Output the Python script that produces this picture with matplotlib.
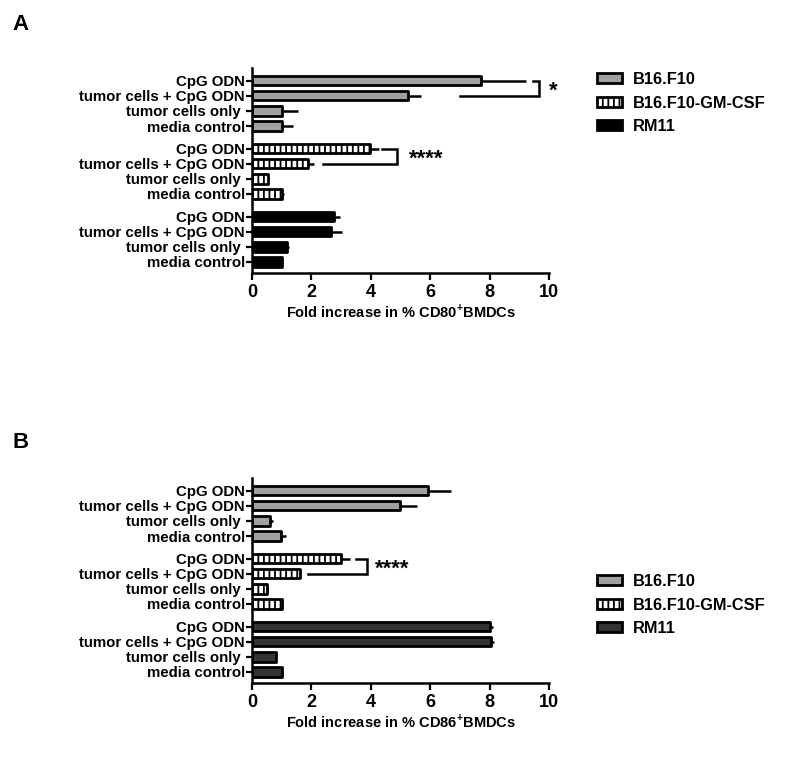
import numpy as np
import matplotlib.pyplot as plt
from matplotlib.patches import Patch

plt.rcParams.update({
    "font.family": "Liberation Sans",
    "font.weight": "bold",
    "mathtext.fontset": "custom",
    "mathtext.rm": "Liberation Sans:bold",
    "mathtext.bf": "Liberation Sans:bold",
    "hatch.linewidth": 1.3,
})

CONDITIONS = ["CpG ODN", "tumor cells + CpG ODN", "tumor cells only ", "media control"]
CELL_LINES = ["B16.F10", "B16.F10-GM-CSF", "RM11"]

# panel A: CD80
cd80_mean = {
    "B16.F10": [7.72, 5.25, 1.02, 1.02],
    "B16.F10-GM-CSF": [3.98, 1.89, 0.54, 1.01],
    "RM11": [2.75, 2.65, 1.19, 1.02],
}
cd80_err = {
    "B16.F10": [1.49, 0.45, 0.53, 0.36],
    "B16.F10-GM-CSF": [0.30, 0.19, 0.03, 0.07],
    "RM11": [0.20, 0.39, 0.04, 0.0],
}

# panel B: CD86
cd86_mean = {
    "B16.F10": [5.93, 4.99, 0.60, 0.99],
    "B16.F10-GM-CSF": [3.01, 1.60, 0.50, 1.01],
    "RM11": [8.00, 8.05, 0.82, 1.02],
}
cd86_err = {
    "B16.F10": [0.78, 0.58, 0.11, 0.14],
    "B16.F10-GM-CSF": [0.28, 0.03, 0.03, 0.04],
    "RM11": [0.10, 0.10, 0.0, 0.03],
}

W, H = 796, 760
fig = plt.figure(figsize=(W / 100, H / 100), dpi=100)


def draw_panel(rect, means, errs, colors, xlabel, brackets, legend_y):
    ax = fig.add_axes(rect)
    styles = {
        "B16.F10": dict(color=colors[0], hatch=None),
        "B16.F10-GM-CSF": dict(color="white", hatch="|||"),
        "RM11": dict(color=colors[2], hatch=None),
    }
    ticks, labels = [], []
    for g, line in enumerate(CELL_LINES):
        pos = g * 4.5 + np.arange(4)
        st = styles[line]
        ax.barh(pos, means[line], height=0.62, color=st["color"], hatch=st["hatch"],
                edgecolor="black", linewidth=2.0, joinstyle="round", zorder=2)
        ax.errorbar(means[line], pos, xerr=[np.zeros(4), errs[line]], fmt="none",
                    ecolor="black", elinewidth=1.8, capsize=0, zorder=1)
        ticks += list(pos)
        labels += CONDITIONS
    ax.set_yticks(ticks)
    ax.set_yticklabels(labels, fontsize=10.8, fontweight="bold")
    ax.set_ylim(12.73, -0.84)
    ax.set_xlim(0, 10)
    ax.set_xticks(np.arange(0, 11, 2))
    ax.tick_params(axis="x", labelsize=13, width=1.6, length=5, pad=3)
    ax.tick_params(axis="y", width=1.6, length=4, pad=1)
    for lab in ax.get_xticklabels():
        lab.set_fontweight("bold")
    for s in ["top", "right"]:
        ax.spines[s].set_visible(False)
    for s in ["left", "bottom"]:
        ax.spines[s].set_linewidth(1.8)
    ax.set_xlabel(xlabel, fontsize=10.5, fontweight="bold", labelpad=1)

    for (y1, x1, y2, x2, xv, text, tx, ty) in brackets:
        ax.plot([x1, xv, xv, x2], [y1, y1, y2, y2], color="black", lw=1.8,
                clip_on=False, solid_joinstyle="miter")
        ax.text(tx, ty, text, fontsize=16, va="center",
                ha="left", clip_on=False)

    handles = [
        Patch(facecolor=colors[0], edgecolor="black", linewidth=2.0, joinstyle="round"),
        Patch(facecolor="white", edgecolor="black", linewidth=2.0, hatch="|||",
              joinstyle="round"),
        Patch(facecolor=colors[2], edgecolor="black", linewidth=2.0, joinstyle="round"),
    ]
    ax.legend(handles, CELL_LINES, loc="upper left", bbox_to_anchor=(0.75, legend_y),
              bbox_transform=fig.transFigure, frameon=False,
              handlelength=1.5, handleheight=0.6, handletextpad=0.7,
              labelspacing=0.52, borderaxespad=0, borderpad=0,
              prop={"weight": "bold", "size": 11.8})
    return ax


draw_panel([252 / W, 1 - 273 / H, 297 / W, 205 / H], cd80_mean, cd80_err,
           ["#a0a0a0", "white", "#000000"],
           r"Fold increase in % CD80$^{+}$BMDCs",
           [(0, 9.46, 1, 6.99, 9.65, "*", 10.0, 0.7),
            (4.5, 4.39, 5.5, 2.39, 4.88, "****", 5.3, 5.2)],
           1 - 72 / H)

draw_panel([252 / W, 1 - 683 / H, 297 / W, 205 / H], cd86_mean, cd86_err,
           ["#a0a0a0", "white", "#333333"],
           r"Fold increase in % CD86$^{+}$BMDCs",
           [(4.5, 3.49, 5.5, 1.89, 3.87, "****", 4.15, 5.2)],
           1 - 574 / H)

fig.text(12 / W, 1 - 25 / H, "A", fontsize=16, fontweight="bold", va="center")
fig.text(12 / W, 1 - 442 / H, "B", fontsize=16, fontweight="bold", va="center")

fig.savefig("out.png", dpi=100, facecolor="white")
